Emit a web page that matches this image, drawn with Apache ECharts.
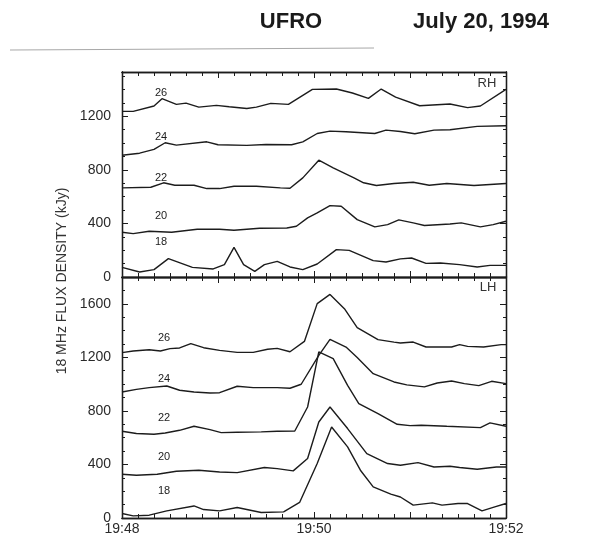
<!DOCTYPE html>
<html>
<head>
<meta charset="utf-8">
<script src="https://cdn.jsdelivr.net/npm/echarts@6/dist/echarts.min.js"></script>
<style>
  html, body { margin: 0; padding: 0; background: #ffffff; }
  #chart { width: 607px; height: 537px; }
</style>
</head>
<body>
<div id="chart"></div>
<script>
// Time in seconds after 19:48:00 UT, flux density in kJy.
// Right-hand circular polarization, one trace per frequency (MHz).
const rh18 = [[0,72],[11,37],[20,55],[29,137],[44,72],[57,60],[64,92],[70,221],[76,92],[83,42],[89,92],[97,117],[105,75],[113,55],[122,97],[134,204],[142,199],[157,122],[165,112],[174,135],[181,142],[190,102],[199,105],[211,92],[222,75],[230,87],[240,87]];
const rh20 = [[0,334],[7,324],[17,341],[31,334],[47,356],[61,356],[70,349],[86,364],[103,366],[109,379],[116,441],[122,478],[130,533],[137,528],[147,428],[158,374],[166,391],[173,426],[182,404],[189,384],[205,396],[212,404],[224,374],[232,391],[240,416]];
const rh22 = [[0,665],[18,670],[26,703],[33,685],[45,685],[53,660],[61,660],[70,677],[84,677],[99,665],[105,662],[113,740],[123,872],[132,815],[145,740],[151,703],[159,683],[170,698],[182,707],[192,685],[203,698],[220,683],[240,698]];
const rh24 = [[0,909],[11,924],[20,952],[27,1002],[34,984],[53,1009],[60,987],[78,982],[90,989],[106,987],[113,1009],[122,1071],[130,1089],[140,1084],[158,1071],[165,1096],[174,1086],[183,1069],[195,1096],[205,1099],[222,1124],[240,1129]];
const rh26 = [[0,1236],[7,1236],[20,1276],[25,1331],[34,1288],[40,1298],[48,1268],[59,1281],[67,1271],[78,1258],[84,1268],[93,1296],[104,1288],[119,1400],[134,1403],[144,1373],[154,1333],[162,1403],[171,1343],[186,1278],[205,1291],[216,1264],[224,1276],[240,1400]];

// Left-hand circular polarization.
const lh18 = [[0,34],[7,16],[17,21],[28,53],[45,90],[51,63],[61,53],[72,78],[87,41],[101,46],[111,116],[122,407],[131,680],[141,531],[149,357],[157,232],[168,178],[174,157],[182,96],[194,113],[200,96],[210,108],[216,108],[225,53],[233,83],[240,108]];
const lh20 = [[0,327],[9,319],[22,327],[34,349],[48,357],[61,344],[72,339],[89,377],[97,369],[107,352],[116,444],[123,717],[130,829],[141,668],[153,481],[166,407],[174,394],[185,414],[195,381],[205,387],[211,377],[222,364],[234,381],[240,381]];
const lh22 = [[0,648],[9,631],[20,626],[27,635],[36,655],[45,685],[55,660],[62,638],[72,640],[87,643],[97,648],[108,650],[116,829],[123,1240],[132,1190],[141,991],[148,855],[160,780],[172,700],[180,690],[187,693],[203,685],[224,675],[230,710],[240,685]];
const lh24 = [[0,941],[9,961],[17,974],[28,986],[36,954],[45,941],[55,934],[61,936],[72,984],[82,974],[97,974],[105,969],[112,999],[123,1215],[130,1334],[140,1277],[147,1198],[157,1078],[170,1016],[178,994],[189,979],[197,1008],[206,1023],[214,1004],[223,989],[231,1021],[240,1004]];
const lh26 = [[0,1235],[7,1247],[17,1257],[24,1247],[30,1265],[36,1270],[43,1302],[51,1272],[61,1252],[72,1237],[82,1237],[91,1260],[97,1267],[105,1242],[114,1319],[122,1601],[130,1670],[139,1563],[147,1422],[160,1332],[170,1314],[174,1307],[182,1314],[190,1277],[206,1277],[211,1295],[216,1282],[226,1277],[237,1295],[240,1295]];

const frequencies = ['18', '20', '22', '24', '26'];
const rhTraces = [rh18, rh20, rh22, rh24, rh26];
const lhTraces = [lh18, lh20, lh22, lh24, lh26];

const timeTickLabels = { 0: '19:48', 120: '19:50', 240: '19:52' };
const fluxTickStep = 400;

const ink = '#1c1c1c';
const font = 'Liberation Sans, Arial, Helvetica, sans-serif';

// One axis per tick size: long ticks at the labelled steps, short ticks between.
// Every axis keeps its own side of the frame (no snapping to the zero line).
function timeAxis(gridIndex, position, interval, tickLen, withLabels) {
  return {
    type: 'value', gridIndex, position, min: 0, max: 240, interval,
    axisLine: { show: true, onZero: false, lineStyle: { color: ink, width: 1.3 } },
    axisTick: { show: true, inside: true, length: tickLen, lineStyle: { color: ink, width: 1 } },
    splitLine: { show: false },
    axisLabel: {
      show: withLabels, margin: 4, color: '#2a2a2a', fontSize: 14, fontFamily: font,
      formatter: v => timeTickLabels[v] || ''
    }
  };
}

function fluxAxis(gridIndex, position, max, interval, tickLen, withLabels) {
  return {
    type: 'value', gridIndex, position, min: 0, max, interval,
    axisLine: { show: true, onZero: false, lineStyle: { color: ink, width: 1.3 } },
    axisTick: { show: true, inside: true, length: tickLen, lineStyle: { color: ink, width: 1 } },
    splitLine: { show: false },
    axisLabel: {
      show: withLabels, margin: 11, color: '#2a2a2a', fontSize: 14, fontFamily: font,
      formatter: v => (v % fluxTickStep === 0 ? String(v) : '')
    }
  };
}

const xAxes = [];
const yAxes = [];
[[0, 1530, false], [1, 1800, true]].forEach(([g, maxFlux, labelTime]) => {
  xAxes.push(timeAxis(g, 'bottom', 60, 6, labelTime));
  xAxes.push(timeAxis(g, 'bottom', 10, 4, false));
  xAxes.push(timeAxis(g, 'top', 60, 6, false));
  xAxes.push(timeAxis(g, 'top', 10, 4, false));
  yAxes.push(fluxAxis(g, 'left', maxFlux, fluxTickStep, 6, true));
  yAxes.push(fluxAxis(g, 'left', maxFlux, 100, 3, false));
  yAxes.push(fluxAxis(g, 'right', maxFlux, fluxTickStep, 6, false));
  yAxes.push(fluxAxis(g, 'right', maxFlux, 100, 3, false));
});

function traceSeries(data, axisIndex) {
  return {
    type: 'line', data, xAxisIndex: axisIndex, yAxisIndex: axisIndex,
    showSymbol: false, symbol: 'none', silent: true, animation: false,
    lineStyle: { color: ink, width: 1.4 }
  };
}

const series = [];
rhTraces.forEach(d => series.push(traceSeries(d, 0)));
lhTraces.forEach(d => series.push(traceSeries(d, 4)));

// Frequency tags beside each trace, plus panel names and page heading.
const rhTagY = [242, 216, 178, 137, 93];
const lhTagY = [491, 457, 418, 379, 338];
const graphic = [];
frequencies.forEach((f, i) => {
  graphic.push({ type: 'text', x: 161, y: rhTagY[i], style: { text: f, font: '11px ' + font, fill: ink, textAlign: 'center', textVerticalAlign: 'middle' } });
  graphic.push({ type: 'text', x: 164, y: lhTagY[i], style: { text: f, font: '11px ' + font, fill: ink, textAlign: 'center', textVerticalAlign: 'middle' } });
});
graphic.push({ type: 'text', x: 487, y: 83, style: { text: 'RH', font: '13px ' + font, fill: '#333', textAlign: 'center', textVerticalAlign: 'middle' } });
graphic.push({ type: 'text', x: 488, y: 287, style: { text: 'LH', font: '13px ' + font, fill: '#333', textAlign: 'center', textVerticalAlign: 'middle' } });
graphic.push({ type: 'text', x: 62, y: 281, rotation: Math.PI / 2, style: { text: '18 MHz FLUX DENSITY (kJy)', font: '14px ' + font, fill: '#333', textAlign: 'center', textVerticalAlign: 'middle' } });
graphic.push({ type: 'text', x: 291, y: 22, style: { text: 'UFRO', font: 'bold 22px ' + font, fill: '#1a1a1a', textAlign: 'center', textVerticalAlign: 'middle' } });
graphic.push({ type: 'text', x: 481, y: 22, style: { text: 'July 20, 1994', font: 'bold 22px ' + font, fill: '#1a1a1a', textAlign: 'center', textVerticalAlign: 'middle' } });
graphic.push({ type: 'line', shape: { x1: 10, y1: 50, x2: 374, y2: 48 }, style: { stroke: '#a8a8a8', lineWidth: 1 } });

const chart = echarts.init(document.getElementById('chart'), null, { renderer: 'canvas' });
chart.setOption({
  backgroundColor: '#ffffff',
  animation: false,
  grid: [
    { left: 122, top: 72, width: 384, height: 205 },
    { left: 122, top: 277, width: 384, height: 241 }
  ],
  xAxis: xAxes,
  yAxis: yAxes,
  series,
  graphic
});
</script>
</body>
</html>
